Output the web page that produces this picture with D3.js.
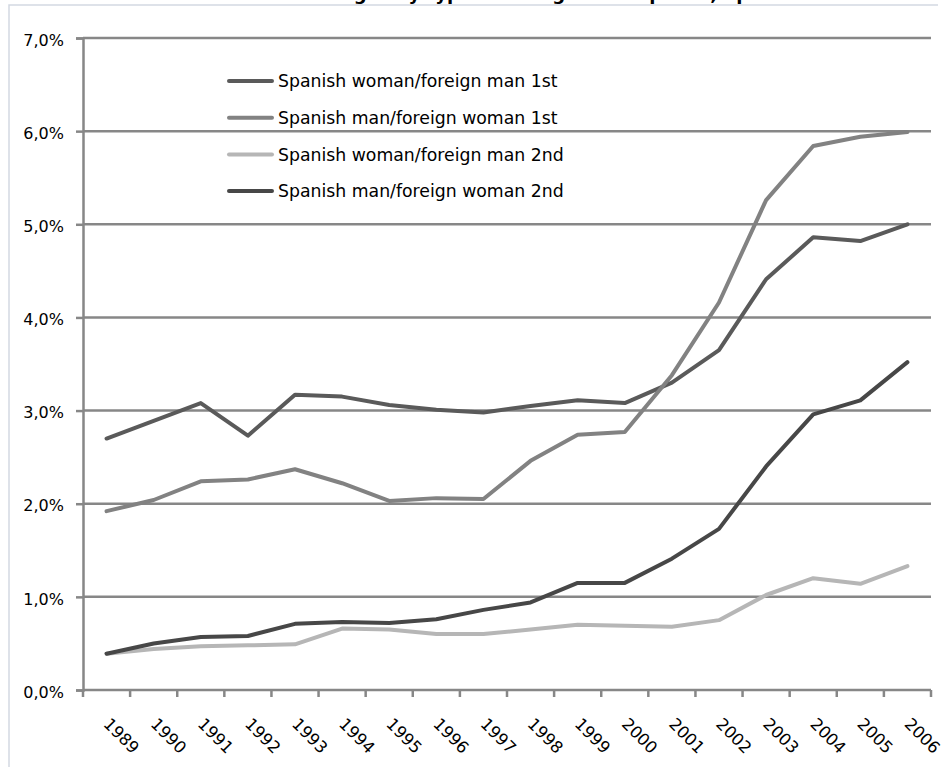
<!DOCTYPE html>
<html>
<head>
<meta charset="utf-8">
<script src="https://cdn.jsdelivr.net/npm/d3@7"></script>
<style>
  body { margin: 0; background: #fff; }
  svg { display: block; font-family: "DejaVu Sans", sans-serif; }
</style>
</head>
<body>
<div id="chart"></div>
<script>
const years = ["1989","1990","1991","1992","1993","1994","1995","1996","1997","1998","1999","2000","2001","2002","2003","2004","2005","2006"];
const womanForeignMan1st = [2.70,2.89,3.08,2.73,3.17,3.15,3.06,3.01,2.98,3.05,3.11,3.08,3.30,3.65,4.41,4.86,4.82,5.00];
const manForeignWoman1st = [1.92,2.04,2.24,2.26,2.37,2.22,2.03,2.06,2.05,2.46,2.74,2.77,3.38,4.16,5.26,5.84,5.94,5.99];
const womanForeignMan2nd = [0.39,0.44,0.47,0.48,0.49,0.66,0.65,0.60,0.60,0.65,0.70,0.69,0.68,0.75,1.02,1.20,1.14,1.33];
const manForeignWoman2nd = [0.39,0.50,0.57,0.58,0.71,0.73,0.72,0.76,0.86,0.94,1.15,1.15,1.41,1.73,2.40,2.96,3.11,3.52];
const seriesNames = ["Spanish woman/foreign man 1st","Spanish man/foreign woman 1st","Spanish woman/foreign man 2nd","Spanish man/foreign woman 2nd"];
const yTicks = [0,1,2,3,4,5,6,7];

const series = [
  { name: seriesNames[0], values: womanForeignMan1st, color: "#5a5a5a" },
  { name: seriesNames[1], values: manForeignWoman1st, color: "#828282" },
  { name: seriesNames[2], values: womanForeignMan2nd, color: "#b6b6b6" },
  { name: seriesNames[3], values: manForeignWoman2nd, color: "#474747" }
];

const width = 945, height = 767;
const margin = { top: 38, right: 14, bottom: 77, left: 83 };

const svg = d3.select("#chart").append("svg")
  .attr("width", width)
  .attr("height", height);

// outer chart border (cropped)
svg.append("path")
  .attr("d", `M9,${height} V5 H938`)
  .attr("fill", "none")
  .attr("stroke", "#d3d9e2")
  .attr("stroke-width", 1.5);

// title, mostly cut off at the top like in the source image
svg.append("text")
  .attr("x", 500)
  .attr("y", 0)
  .attr("text-anchor", "middle")
  .attr("font-weight", "bold")
  .attr("font-size", 18)
  .text("Mixed marriages by type of foreign-born spouse, Spain");

const x = d3.scaleBand()
  .domain(years)
  .range([margin.left, width - margin.right]);

const y = d3.scaleLinear()
  .domain([0, 7])
  .range([height - margin.bottom, margin.top]);

const gridColor = "#878787";

// gridlines
svg.append("g")
  .selectAll("line")
  .data(yTicks.filter(d => d > 0))
  .enter()
  .append("line")
  .attr("x1", margin.left)
  .attr("x2", width - margin.right)
  .attr("y1", d => y(d))
  .attr("y2", d => y(d))
  .attr("stroke", gridColor)
  .attr("stroke-width", 2.5);

// y axis
const yAxis = svg.append("g")
  .attr("transform", `translate(${margin.left},0)`)
  .call(d3.axisLeft(y).tickValues(yTicks).tickSize(7).tickPadding(12)
    .tickFormat(d => d3.format(".1f")(d).replace(".", ",") + "%"));
yAxis.select(".domain").attr("stroke", gridColor).attr("stroke-width", 2.5);
yAxis.selectAll(".tick line").attr("stroke", gridColor).attr("stroke-width", 2.5);
yAxis.selectAll(".tick text")
  .attr("font-size", 16)
  .attr("fill", "#000")
  .attr("dy", "0.45em")
  .attr("font-family", "DejaVu Sans");

// x axis: ticks at category boundaries
const xAxisG = svg.append("g")
  .attr("transform", `translate(0,${height - margin.bottom})`);
xAxisG.append("line")
  .attr("x1", margin.left)
  .attr("x2", width - margin.right)
  .attr("stroke", gridColor)
  .attr("stroke-width", 2.5);
xAxisG.selectAll("line.tick")
  .data(years.concat(["end"]))
  .enter()
  .append("line")
  .attr("class", "tick")
  .attr("x1", (d, i) => margin.left + i * x.step())
  .attr("x2", (d, i) => margin.left + i * x.step())
  .attr("y1", 0)
  .attr("y2", 7)
  .attr("stroke", gridColor)
  .attr("stroke-width", 2.5);
xAxisG.selectAll("text")
  .data(years)
  .enter()
  .append("text")
  .attr("transform", d => `translate(${x(d) + x.bandwidth() / 2 - 4},${35}) rotate(45)`)
  .attr("font-size", 16.5)
  .attr("fill", "#000")
  .text(d => d);

// series lines
const line = d3.line()
  .x((d, i) => x(years[i]) + x.bandwidth() / 2)
  .y(d => y(d));

svg.append("g")
  .selectAll("path")
  .data(series)
  .enter()
  .append("path")
  .attr("d", d => line(d.values))
  .attr("fill", "none")
  .attr("stroke", d => d.color)
  .attr("stroke-width", 4)
  .attr("stroke-linejoin", "round")
  .attr("stroke-linecap", "round");

// legend
const legend = svg.append("g")
  .selectAll("g")
  .data(series)
  .enter()
  .append("g")
  .attr("transform", (d, i) => `translate(229,${81 + i * 36.7})`);
legend.append("line")
  .attr("x1", 0)
  .attr("x2", 43)
  .attr("stroke", d => d.color)
  .attr("stroke-width", 4)
  .attr("stroke-linecap", "round");
legend.append("text")
  .attr("x", 49)
  .attr("dy", "0.36em")
  .attr("font-size", 17.3)
  .attr("fill", "#000")
  .text(d => d.name);
</script>
</body>
</html>
